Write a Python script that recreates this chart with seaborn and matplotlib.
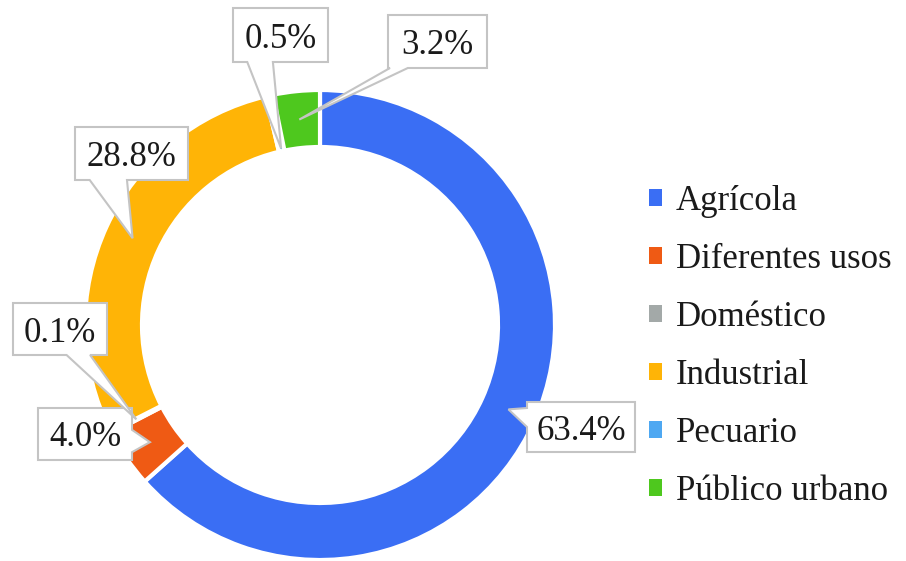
import numpy as np
import matplotlib
matplotlib.use("Agg")
import matplotlib.pyplot as plt
from matplotlib.patches import Polygon, Patch
import seaborn as sns

# Water use shares by sector
categories = ["Agrícola", "Diferentes usos", "Doméstico", "Industrial", "Pecuario", "Público urbano"]
shares = [63.4, 4.0, 0.1, 28.8, 0.5, 3.2]
labels = ["63.4%", "4.0%", "0.1%", "28.8%", "0.5%", "3.2%"]
colors = ["#3a6ef4", "#ef5a14", "#a3a9a8", "#ffb406", "#4ea8f2", "#4ec81e"]

sns.set_theme(style="white")
plt.rcParams["font.family"] = ["Liberation Serif", "DejaVu Serif"]

W, H = 906, 561
fig = plt.figure(figsize=(W / 100, H / 100), dpi=100)
ax = fig.add_axes([0, 0, 1, 1])

palette = sns.color_palette(colors)
cx, cy = 320, H - 325
R_out, R_in = 235, 178
wedges, _ = ax.pie(shares, colors=palette, startangle=90, counterclock=False,
                   center=(cx, cy), radius=R_out, frame=True,
                   wedgeprops=dict(width=R_out - R_in, edgecolor="white", linewidth=3))
ax.set_xlim(0, W)
ax.set_ylim(0, H)
ax.set_aspect("equal")
ax.axis("off")

# Callout boxes: (x0, top, x1, bottom) in pixels from the top-left, pointer side,
# pointer base as fractions along that side, and tip radius
box_layout = [
    ((527, 402, 635, 452), "left", (0.12, 0.5), 0.5),
    ((38, 408, 132, 460), "right", (0.42, 0.85), 0.5),
    ((13, 303, 107, 355), "bottom", (0.57, 0.82), 0.5),
    ((75, 127, 188, 180), "bottom", (0.13, 0.46), 0.5),
    ((233, 8, 328, 62), "bottom", (0.15, 0.42), 0.05),
    ((388, 15, 487, 68), "bottom", (0.02, 0.2), 0.5),
]

cum = np.cumsum([0] + shares[:-1])
for i, (lab, (box, side, (f0, f1), tr)) in enumerate(zip(labels, box_layout)):
    mid = np.deg2rad(90 - (cum[i] + shares[i] / 2) * 3.6)
    r = R_in + tr * (R_out - R_in)
    tip = (cx + r * np.cos(mid), cy + r * np.sin(mid))
    x0, t, x1, b = box
    y_top, y_bot = H - t, H - b
    if side == "bottom":
        pts = [(x0, y_top), (x1, y_top), (x1, y_bot),
               (x0 + f1 * (x1 - x0), y_bot), tip, (x0 + f0 * (x1 - x0), y_bot), (x0, y_bot)]
    elif side == "left":
        pts = [(x0, y_top), (x1, y_top), (x1, y_bot), (x0, y_bot),
               (x0, y_top - f1 * (y_top - y_bot)), tip, (x0, y_top - f0 * (y_top - y_bot))]
    else:  # right
        pts = [(x0, y_top), (x1, y_top), (x1, y_top - f0 * (y_top - y_bot)), tip,
               (x1, y_top - f1 * (y_top - y_bot)), (x1, y_bot), (x0, y_bot)]
    ax.add_patch(Polygon(pts, closed=True, facecolor="white", edgecolor="#c4c4c4",
                         linewidth=1.5, zorder=5))
    ax.text((x0 + x1) / 2, (y_top + y_bot) / 2, lab, ha="center", va="center_baseline",
            fontsize=25, color="#1a1a1a", zorder=6)

handles = [Patch(facecolor=c, edgecolor="none") for c in palette]
leg = ax.legend(handles, categories, loc="center left",
                bbox_to_anchor=(635 / W, 1 - 346 / H), frameon=False,
                fontsize=25, handlelength=0.38, handleheight=0.38,
                handletextpad=0.4, labelspacing=0.72, borderaxespad=0)
for t in leg.get_texts():
    t.set_color("#1a1a1a")

fig.savefig("out.png", dpi=100, facecolor="white")
